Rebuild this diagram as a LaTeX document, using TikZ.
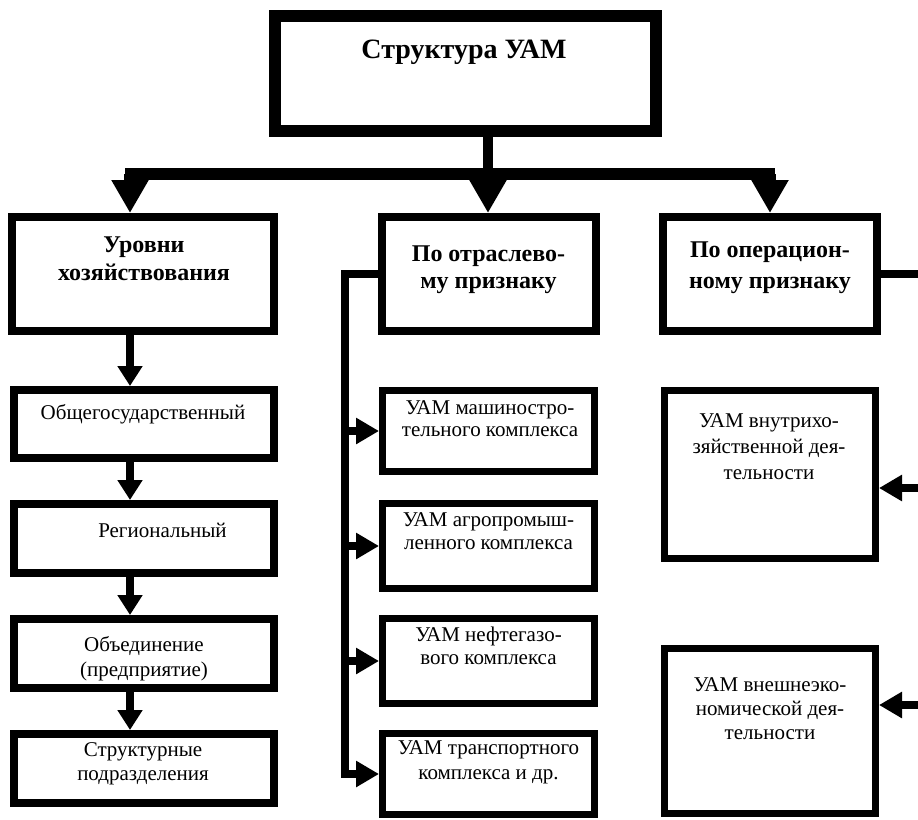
\documentclass[tikz,border=0pt]{standalone}
\usepackage{fontspec}
\setmainfont{Liberation Serif}
\usetikzlibrary{arrows.meta}
% #1 size, #2 leading, #3 width, #4 text
\newcommand{\txreg}[4]{\parbox[t]{#3pt}{\fontsize{#1}{#2}\selectfont\centering #4}}
\newcommand{\txbold}[4]{\parbox[t]{#3pt}{\fontsize{#1}{#2}\selectfont\bfseries\centering #4}}
\begin{document}
\begin{tikzpicture}[x=1pt,y=-1pt,
  box/.style={draw=black, fill=white, rectangle, inner sep=0pt, line width=#1},
  box/.default=8pt,
  lbl/.style={inner sep=0pt, anchor=base},
  bar/.style={line width=12pt},
  mainarrow/.style={line width=12pt, -{Triangle[length=33pt,width=35pt]}},
  levelarrow/.style={line width=8pt, -{Triangle[length=20pt,width=24pt]}},
  conn/.style={line width=8pt},
  connarrow/.style={line width=8pt, -{Triangle[length=23pt,width=25pt]}}]
\useasboundingbox (0,0) rectangle (918,819);

% top box
\node[box=12pt, minimum width=381pt, minimum height=115pt] (T) at (465.5,73.5) {};
\node[lbl] (tT) at (464,58) {\txbold{28}{32}{360}{Структура УАМ}};

% headings
\node[box, minimum width=262pt, minimum height=114pt] (L) at (143,274) {};
\node[box, minimum width=214pt, minimum height=114pt] (M) at (489,274) {};
\node[box, minimum width=214pt, minimum height=114pt] (R) at (770,274) {};
\node[lbl] (tL) at (144,252) {\txbold{24}{28}{250}{Уровни\\хозяйствования}};
\node[lbl] (tM) at (488.5,261) {\txbold{24}{27}{205}{По отраслево-\\му признаку}};
\node[lbl] (tR) at (770,257) {\txbold{24}{31}{205}{По операцион-\\ному признаку}};

% left column
\node[box, minimum width=260pt, minimum height=68pt] (LC1) at (144,424) {};
\node[box, minimum width=260pt, minimum height=69pt] (LC2) at (144,538.5) {};
\node[box, minimum width=260pt, minimum height=69pt] (LC3) at (144,653.5) {};
\node[box, minimum width=260pt, minimum height=69pt] (LC4) at (144,768.5) {};
\node[lbl] (tLC1) at (143,419) {\txreg{21}{25}{250}{Общегосударственный}};
\node[lbl] (tLC2) at (162.5,537) {\txreg{21}{25}{200}{Региональный}};
\node[lbl] (tLC3) at (144,651) {\txreg{21}{25}{250}{Объединение\\(предприятие)}};
\node[lbl] (tLC4) at (143,756) {\txreg{21}{24}{250}{Структурные\\подразделения}};

% middle column
\node[box=7pt, minimum width=212pt, minimum height=81pt] (C1) at (488.5,431) {};
\node[box=7pt, minimum width=212pt, minimum height=85pt] (C2) at (488.5,546) {};
\node[box=7pt, minimum width=212pt, minimum height=85pt] (C3) at (488.5,661) {};
\node[box=7pt, minimum width=212pt, minimum height=81pt] (C4) at (488.5,774) {};
\node[lbl] (tC1) at (490,414) {\txreg{21}{22}{204}{УАМ машиностро-\\тельного комплекса}};
\node[lbl] (tC2) at (488.5,526) {\txreg{21}{23}{204}{УАМ агропромыш-\\ленного комплекса}};
\node[lbl] (tC3) at (488.5,641) {\txreg{21}{23}{204}{УАМ нефтегазо-\\вого комплекса}};
\node[lbl] (tC4) at (488.5,754) {\txreg{21}{25}{204}{УАМ транспортного\\комплекса и др.}};

% right column
\node[box=7pt, minimum width=211pt, minimum height=168pt] (RC1) at (770,474.5) {};
\node[box=7pt, minimum width=211pt, minimum height=165pt] (RC2) at (770,731) {};
\node[lbl] (tRC1) at (769,427) {\txreg{21}{26}{204}{УАМ внутрихо-\\зяйственной дея-\\тельности}};
\node[lbl] (tRC2) at (770,691) {\txreg{21}{24}{204}{УАМ внешнеэко-\\номической дея-\\тельности}};

% main distribution bar
\coordinate (bl) at (130,174);
\coordinate (bm) at (488,174);
\coordinate (br) at (770,174);
\draw[line width=10pt] (T.south -| bm) -- (bm);
\draw[bar] ([xshift=-5pt]bl) -- ([xshift=5pt]br);
\draw[mainarrow] (bl) -- (bl |- L.north);
\draw[mainarrow] (bm) -- (bm |- M.north);
\draw[mainarrow] (br) -- (br |- R.north);

% left chain
\coordinate (lx) at (130,0);
\draw[levelarrow] (L.south -| lx) -- (LC1.north -| lx);
\draw[levelarrow] (LC1.south -| lx) -- (LC2.north -| lx);
\draw[levelarrow] (LC2.south -| lx) -- (LC3.north -| lx);
\draw[levelarrow] (LC3.south -| lx) -- (LC4.north -| lx);

% middle connector
\coordinate (mx) at (345,0);
\draw[connarrow] (M.west) -| (mx |- C4.west) -- (C4.west);
\draw[connarrow] (mx |- C1.west) -- (C1.west);
\draw[connarrow] (mx |- C2.west) -- (C2.west);
\draw[connarrow] (mx |- C3.west) -- (C3.west);

% right connector
\coordinate (ra0) at (918,274);
\coordinate (ra1) at (918,488);
\coordinate (ra2) at (918,705);
\draw[conn] (R.east) -- (ra0);
\draw[connarrow] (ra1) -- (RC1.east |- ra1);
\draw[connarrow] (ra2) -- (RC2.east |- ra2);
\end{tikzpicture}
\end{document}
